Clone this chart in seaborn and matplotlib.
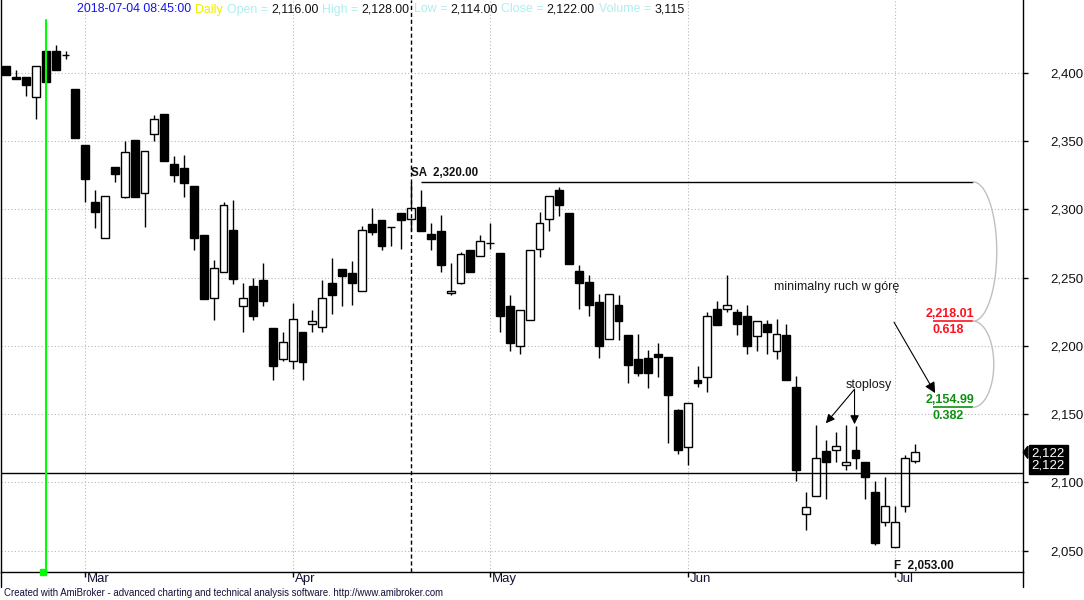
import matplotlib
matplotlib.use('Agg')
import matplotlib.pyplot as plt
from matplotlib.patches import Polygon
from matplotlib.lines import Line2D
import numpy as np
import pandas as pd
import seaborn as sns

# FW20 daily bars, 2018-02-19 .. 2018-07-04 (one entry per trading day)
opens = [2405, 2397, 2397, 2382, 2416, 2416, 2413, 2388, 2347, 2305,
         2279, 2331, 2309, 2351, 2312, 2355, 2370, 2333, 2330, 2317,
         2281, 2235, 2254, 2285, 2229, 2244, 2248, 2213, 2190, 2189,
         2210, 2216, 2214, 2246, 2256, 2253, 2240, 2289, 2292, 2287,
         2297, 2293, 2302, 2282, 2284, 2239, 2246, 2270, 2266, 2275,
         2268, 2229, 2200, 2219, 2271, 2293, 2314, 2297, 2255, 2247,
         2232, 2205, 2230, 2208, 2190, 2191, 2194, 2192, 2153, 2126,
         2175, 2177, 2227, 2227, 2225, 2222, 2207, 2216, 2196, 2208,
         2170, 2077, 2090, 2123, 2124, 2113, 2124, 2115, 2093, 2071,
         2053, 2083, 2116]
highs = [2405, 2402, 2397, 2405, 2416, 2420, 2416, 2388, 2347, 2314,
         2310, 2331, 2350, 2351, 2343, 2369, 2370, 2339, 2340, 2317,
         2281, 2263, 2305, 2307, 2246, 2250, 2261, 2213, 2210, 2231,
         2210, 2226, 2248, 2264, 2256, 2262, 2288, 2301, 2292, 2287,
         2297, 2320, 2314, 2290, 2296, 2261, 2269, 2270, 2281, 2290,
         2268, 2237, 2226, 2270, 2298, 2310, 2316, 2297, 2259, 2252,
         2238, 2238, 2237, 2208, 2209, 2197, 2202, 2192, 2154, 2158,
         2185, 2225, 2233, 2252, 2227, 2230, 2218, 2219, 2220, 2216,
         2178, 2093, 2142, 2131, 2137, 2142, 2141, 2115, 2101, 2104,
         2083, 2120, 2128]
lows = [2398, 2395, 2383, 2366, 2393, 2402, 2410, 2352, 2305, 2286,
        2279, 2320, 2308, 2309, 2287, 2350, 2335, 2320, 2309, 2270,
        2234, 2219, 2254, 2245, 2210, 2219, 2229, 2175, 2189, 2183,
        2175, 2210, 2210, 2223, 2229, 2230, 2240, 2281, 2270, 2273,
        2271, 2284, 2284, 2270, 2254, 2237, 2245, 2254, 2266, 2271,
        2210, 2196, 2194, 2219, 2265, 2284, 2295, 2260, 2227, 2222,
        2191, 2205, 2204, 2173, 2178, 2169, 2177, 2129, 2121, 2113,
        2170, 2166, 2215, 2225, 2208, 2194, 2196, 2194, 2190, 2175,
        2101, 2065, 2090, 2088, 2115, 2109, 2110, 2088, 2054, 2068,
        2053, 2078, 2114]
closes = [2398, 2395, 2391, 2405, 2393, 2402, 2413, 2352, 2322, 2298,
          2310, 2326, 2342, 2309, 2343, 2366, 2335, 2325, 2319, 2279,
          2234, 2257, 2303, 2249, 2235, 2222, 2233, 2185, 2203, 2220,
          2188, 2218, 2235, 2237, 2251, 2246, 2285, 2283, 2273, 2287,
          2292, 2301, 2284, 2278, 2259, 2240, 2267, 2254, 2277, 2275,
          2222, 2202, 2226, 2270, 2290, 2310, 2303, 2260, 2246, 2230,
          2200, 2238, 2218, 2186, 2180, 2180, 2192, 2164, 2124, 2158,
          2173, 2222, 2215, 2230, 2216, 2200, 2218, 2210, 2209, 2175,
          2109, 2082, 2118, 2115, 2127, 2115, 2118, 2104, 2056, 2083,
          2071, 2118, 2122]

month_labels = ['Mar', 'Apr', 'May', 'Jun', 'Jul']
month_starts = [8, 29, 49, 69, 90]
price_ticks = [2050, 2100, 2150, 2200, 2250, 2300, 2350, 2400]

last_stamp = '2018-07-04 08:45:00'
last_volume = 3115
green_bar = 4
selected_bar = 41
hline_level = 2107
sa_high = 2320.0
f_low = 2053.0
fib_ratios = [0.618, 0.382]
footer = ('Created with AmiBroker - advanced charting and technical analysis '
          'software. http://www.amibroker.com')

df = pd.DataFrame(dict(open=opens, high=highs, low=lows, close=closes))
df['bar'] = np.arange(len(df))
df['up'] = df['close'] >= df['open']

sns.set_theme(style='white')
plt.rcParams['font.family'] = ['Liberation Sans', 'DejaVu Sans']
narrow = ['Liberation Sans Narrow', 'Liberation Sans', 'DejaVu Sans']

fig = plt.figure(figsize=(10.84, 6.0), dpi=100)
ax = fig.add_axes([0.0005, 0.0462, 0.9435, 0.9538])
ax.set_xlim(-0.58, 102.99)
ax.set_ylim(2034.2, 2453.2)

# candles: wicks first, bodies on top
ax.vlines(df['bar'], df['low'], df['high'], color='black', lw=1.0, zorder=2)
body_lo = df[['open', 'close']].min(axis=1)
body_h = (df['close'] - df['open']).abs()
ax.bar(df['bar'], body_h, bottom=body_lo, width=0.8,
       color=np.where(df['up'], 'white', 'black'), edgecolor='black',
       linewidth=1.0, zorder=3)

# grid, axes
ax.set_axisbelow(True)
ax.set_yticks(price_ticks)
ax.set_yticklabels([f'{v:,}' for v in price_ticks])
ax.set_xticks(month_starts)
ax.set_xticklabels([])
ax.grid(True, color='#b8b8b8', linestyle=(0, (1, 2)), lw=0.8)
ax.yaxis.tick_right()
ax.tick_params(axis='y', right=True, left=False, length=3.6, width=1,
               color='black', pad=16, labelsize=9.5, labelcolor='#111111')
ax.tick_params(axis='x', bottom=True, length=3.6, width=1, color='black',
               direction='out')
for side in ['left', 'bottom', 'right']:
    ax.spines[side].set_color('black')
    ax.spines[side].set_linewidth(1)
ax.spines['top'].set_visible(False)

# axis frame lines run a little below the plot, as in the reference
for xf in [0.5 / 1084, 1023.3 / 1084]:
    fig.add_artist(Line2D([xf, xf], [1 - 572 / 600, 1 - 587 / 600],
                          color='black', lw=1))

for lab, pos in zip(month_labels, month_starts):
    ax.annotate(lab, xy=(pos, 0), xycoords=('data', 'axes fraction'),
                xytext=(2, -1), textcoords='offset pixels', ha='left', va='top',
                fontsize=9.5, family=narrow, color='#111133')

# studies
ax.axhline(hline_level, color='black', lw=1, zorder=4)
ax.axvline(selected_bar, color='black', lw=1, ls=(0, (3, 2)), zorder=4)
ax.axvline(green_bar, ymax=1 - 20 / 572.3, color='#00ff00', lw=1.5, zorder=4)
ax.plot([green_bar - 0.3], [0], transform=ax.get_xaxis_transform(), marker='s',
        ms=5, color='#00ff00', clip_on=False, zorder=5)

fib_end = 97.9
ax.hlines(sa_high, selected_bar + 1, fib_end, color='black', lw=1, zorder=4)
ax.annotate(f'SA  {sa_high:,.2f}', xy=(selected_bar - 0.05, sa_high),
            xytext=(0, 3), textcoords='offset pixels', ha='left', va='bottom',
            fontsize=8.3, fontweight='bold', color='#111111')
ax.annotate(f'F  {f_low:,.2f}', xy=(month_starts[-1] - 0.1, 0),
            xycoords=('data', 'axes fraction'), xytext=(0, 0),
            textcoords='offset pixels', ha='left', va='bottom',
            fontsize=8.5, fontweight='bold', family=narrow, color='#111111')

# fib retracement of the SA -> F swing
levels = [f_low + r * (sa_high - f_low) for r in fib_ratios]
fib_colors = ['#ff1020', '#109010']
for lvl, r, c in zip(levels, fib_ratios, fib_colors):
    ax.hlines(lvl, 93.8, fib_end, color=c, lw=1.2, zorder=4)
    ax.annotate(f'{lvl:,.2f}', xy=(95.6, lvl), xytext=(0, 1),
                textcoords='offset pixels', ha='center', va='bottom',
                fontsize=9, fontweight='bold', color=c)
    ax.annotate(f'{r:.3f}', xy=(95.4, lvl), xytext=(0, -3),
                textcoords='offset pixels', ha='center', va='top',
                fontsize=9, fontweight='bold', color=c)

t = np.linspace(0, np.pi, 80)
for top, bot, a in [(sa_high, levels[0], 2.4), (levels[0], levels[1], 2.1)]:
    mid, half = (top + bot) / 2, (top - bot) / 2
    ax.plot(fib_end + a * np.sin(t), mid + half * np.cos(t), color='#c0c0c0',
            lw=1, zorder=4, clip_on=False)

# hand-drawn notes
ax.text(84.1, 2243.3, 'minimalny ruch w górę', ha='center', va='center',
        fontsize=9, color='#1a1a1a')
ax.annotate('', xy=(94.06, 2165.4), xytext=(89.9, 2217.3),
            arrowprops=dict(arrowstyle='-|>', color='black', lw=0.8,
                            mutation_scale=16, shrinkA=0, shrinkB=0))
ax.text(87.3, 2171.4, 'stoplosy', ha='center', va='center', fontsize=9,
        color='#1a1a1a')
for tip in [(83.0, 2143.3), (85.9, 2142.6)]:
    ax.annotate('', xy=tip, xytext=(85.9, 2168.2),
                arrowprops=dict(arrowstyle='-|>', color='black', lw=0.8,
                                mutation_scale=13, shrinkA=0, shrinkB=0))

# last price marker on the axis
last = closes[-1]
ax.annotate(f'{last:,}\n{last:,}', xy=(1, last),
            xycoords=ax.get_yaxis_transform(), xytext=(25, -7),
            textcoords='offset pixels', ha='center', va='center', fontsize=9.5,
            color='white', linespacing=1.0, annotation_clip=False,
            bbox=dict(boxstyle='square,pad=0.2', fc='black', ec='black'))
ax.add_patch(Polygon([(1.0, last), (1.0045, last + 4.5), (1.0045, last - 4.5)],
                     closed=True, transform=ax.get_yaxis_transform(),
                     fc='black', ec='black', clip_on=False, zorder=6))

# header line, pieces chained one after another
header = [
    (last_stamp, '#1515f0'), ('Daily', '#eeee00'),
    ('Open =', '#aeeeee'), (f'{opens[-1]:,.2f}', '#111111'),
    ('High =', '#aeeeee'), (f'{highs[-1]:,.2f}', '#111111'),
    ('Low =', '#aeeeee'), (f'{lows[-1]:,.2f}', '#111111'),
    ('Close =', '#aeeeee'), (f'{closes[-1]:,.2f}', '#111111'),
    ('Volume =', '#aeeeee'), (f'{last_volume:,}', '#111111'),
]
hsize = 8.9
prev = fig.text(77 / 1084, 1 - 9.5 / 600, header[0][0], color=header[0][1],
                fontsize=hsize, ha='left', va='center')
for s, c in header[1:]:
    gap = 4 if s[0].isalpha() else 3
    prev = ax.annotate(s, xy=(1, 0), xycoords=prev, xytext=(gap, 0),
                       textcoords='offset pixels', ha='left', va='bottom',
                       fontsize=hsize, color=c, annotation_clip=False)

fig.text(4 / 1084, 1 - 593 / 600, footer, fontsize=6.9, family=narrow,
         color='#101038', ha='left', va='center')

fig.savefig('out.png', dpi=100)
